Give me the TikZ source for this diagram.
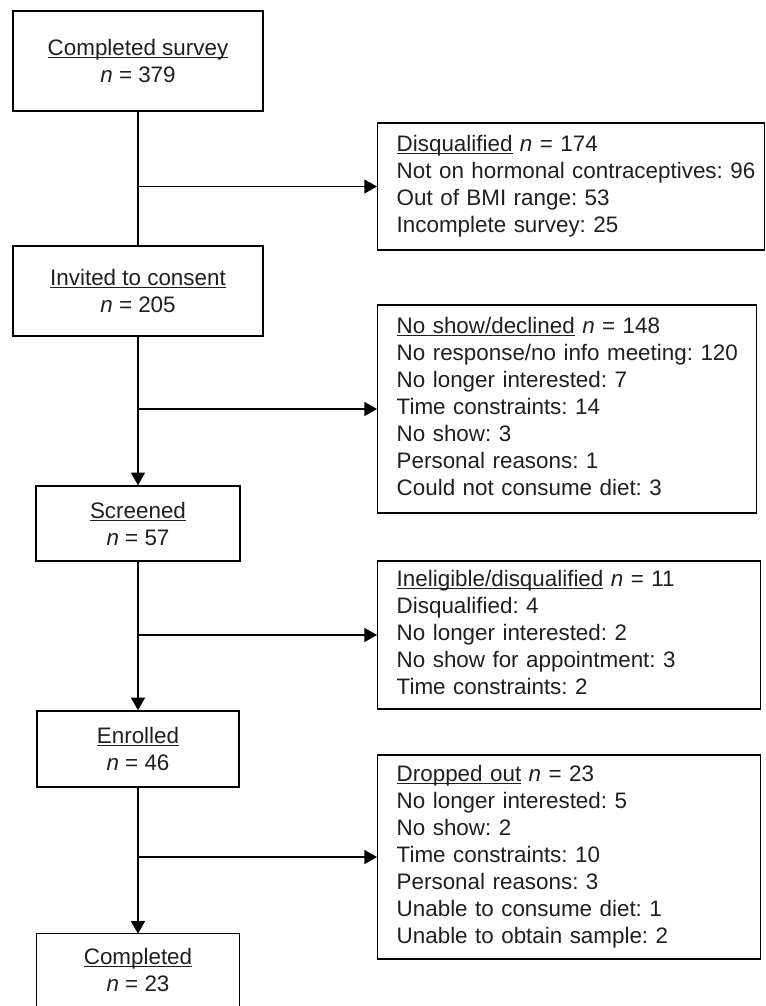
\documentclass[tikz,border=0pt]{standalone}
\usepackage{fontspec}
\setmainfont{Liberation Sans}
\usetikzlibrary{arrows.meta}
\frenchspacing
\newcommand{\ulbox}[1]{\leavevmode\setbox0\hbox{#1}\rlap{\rule[-2.1pt]{\wd0}{0.8pt}}\box0\relax}
\begin{document}
\begin{tikzpicture}[x=0.75pt,y=-0.75pt,
  every node/.style={font=\fontsize{16.8pt}{20.25pt}\selectfont\frenchspacing, text=black!88},
  mainbox/.style={draw=black, line width=1.1pt, align=center, inner sep=0pt},
  openbox/.style={align=center, inner sep=0pt},
  sidebox/.style={draw=black, line width=1.1pt, anchor=west, align=left, inner xsep=0pt, inner ysep=0pt},
  conn/.style={draw=black, line width=1.1pt},
  arr/.style={conn, -{Triangle[length=9.5pt,width=10.5pt]}}]
\useasboundingbox (0,0) rectangle (765,1006);

% main column
\node[mainbox, minimum width=187.5pt, minimum height=75pt] (survey) at (138,61)
  {\ulbox{Completed survey}\\\textit{n} = 379};
\node[mainbox, minimum width=187.5pt, minimum height=67.5pt] (invite) at (138,291)
  {\ulbox{Invited to consent}\\\textit{n} = 205};
\node[mainbox, minimum width=153pt, minimum height=56.25pt] (screen) at (138,523.5)
  {\ulbox{Screened}\\\textit{n} = 57};
\node[mainbox, minimum width=151.5pt, minimum height=57pt] (enrol) at (138,749)
  {\ulbox{Enrolled}\\\textit{n} = 46};
\node[openbox, minimum width=151.5pt, minimum height=54pt] (done) at (138,970)
  {\ulbox{Completed}\\\textit{n} = 23};
\draw[conn] (done.south west) -- (done.north west) -- (done.north east) -- (done.south east);

% side boxes
\node[sidebox, text width=290.25pt, minimum height=95.25pt] (disq) at (377,186.5)
  {\hspace*{14.25pt}\begin{tabular}{@{}l@{}}\ulbox{Disqualified} \textit{n} = 174\\
   Not on hormonal contraceptives: 96\\
   Out of BMI range: 53\\
   Incomplete survey: 25\end{tabular}};
\node[sidebox, text width=284.25pt, minimum height=156pt] (noshow) at (377,409)
  {\hspace*{14.25pt}\begin{tabular}{@{}l@{}}\ulbox{No show/declined} \textit{n} = 148\\
   No response/no info meeting: 120\\
   No longer interested: 7\\
   Time constraints: 14\\
   No show: 3\\
   Personal reasons: 1\\
   Could not consume diet: 3\end{tabular}};
\node[sidebox, text width=287.25pt, minimum height=111pt] (inelig) at (377,635)
  {\hspace*{14.25pt}\begin{tabular}{@{}l@{}}\ulbox{Ineligible/disqualified} \textit{n} = 11\\
   Disqualified: 4\\
   No longer interested: 2\\
   No show for appointment: 3\\
   Time constraints: 2\end{tabular}};
\node[sidebox, text width=287.25pt, minimum height=153pt] (drop) at (377,857)
  {\hspace*{14.25pt}\begin{tabular}{@{}l@{}}\ulbox{Dropped out} \textit{n} = 23\\
   No longer interested: 5\\
   No show: 2\\
   Time constraints: 10\\
   Personal reasons: 3\\
   Unable to consume diet: 1\\
   Unable to obtain sample: 2\end{tabular}};

% connectors
\draw[conn] (survey.south) -- (invite.north);
\draw[arr] (invite.south) -- (screen.north);
\draw[arr] (screen.south) -- (enrol.north);
\draw[arr] (enrol.south) -- (done.north);
\draw[arr] (survey.south |- disq.west) -- (disq.west);
\draw[arr] (invite.south |- noshow.west) -- (noshow.west);
\draw[arr] (screen.south |- inelig.west) -- (inelig.west);
\draw[arr] (enrol.south |- drop.west) -- (drop.west);
\end{tikzpicture}
\end{document}
